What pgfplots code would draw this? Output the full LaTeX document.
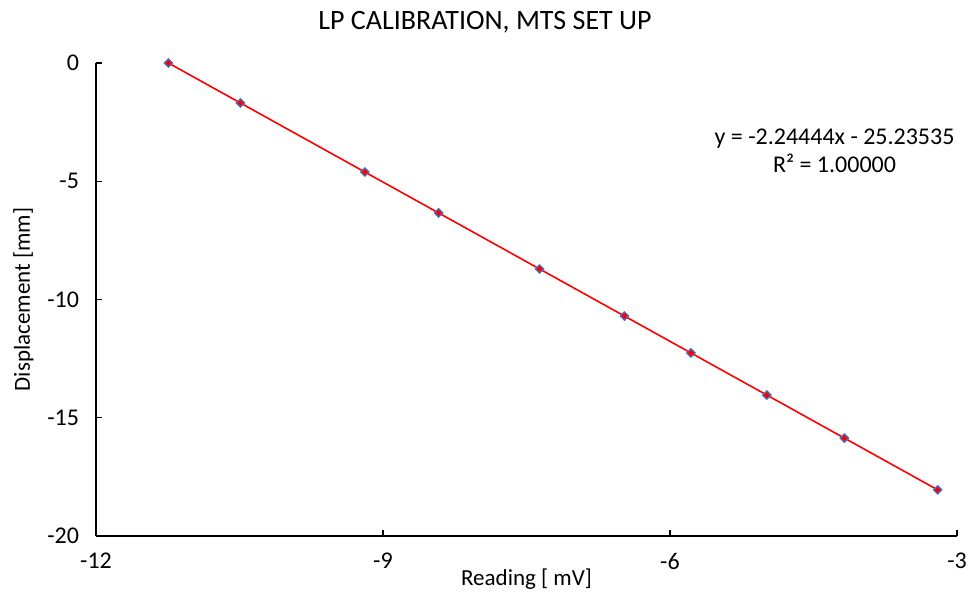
\documentclass[border=0pt]{standalone}
\usepackage{fontspec}
\setmainfont{Carlito}
\usepackage{pgfplots}
\pgfplotsset{compat=1.18}
\definecolor{mblue}{RGB}{68,114,196}
\begin{document}
\begin{tikzpicture}
\useasboundingbox (-48pt,-29pt) rectangle (436.5pt,268pt);
\begin{axis}[
  at={(0pt,0pt)}, anchor=south west,
  scale only axis, width=430.5pt, height=236.5pt,
  xmin=-12, xmax=-3, ymin=-20, ymax=0,
  xtick={-12,-9,-6,-3}, ytick={-20,-15,-10,-5,0},
  axis x line=bottom, axis y line=left,
  axis line style={-, line width=0.8pt, black},
  tick align=inside, major tick length=3pt,
  tick style={black, line width=0.6pt},
  /pgf/number format/assume math mode=true,
  tick label style={font=\fontsize{12}{14}\selectfont},
  xticklabel style={yshift=-5pt},
  yticklabel style={xshift=-5pt},
  xlabel={Reading [ mV]}, ylabel={Displacement [mm]},
  label style={font=\fontsize{11.5}{13}\selectfont},
  xlabel style={yshift=7pt},
  ylabel style={yshift=0pt},
  clip=false,
]
\addplot[only marks, mark=square*, mark size=1.6pt, mark options={rotate=45, fill=mblue, draw=mblue}] coordinates {
(-11.2434,0) (-10.4906,-1.69) (-9.1895,-4.61) (-8.4188,-6.34) (-7.3628,-8.71)
(-6.4762,-10.70) (-5.7811,-12.26) (-4.9880,-14.04) (-4.1771,-15.86) (-3.2014,-18.05)
};
\addplot[red, line width=0.8pt, no marks] coordinates {(-11.2434,0) (-3.2014,-18.05)};
\addplot[only marks, mark=square*, mark size=0.9pt, mark options={rotate=45, fill=red, draw=red}] coordinates {
(-11.2434,0) (-10.4906,-1.69) (-9.1895,-4.61) (-8.4188,-6.34) (-7.3628,-8.71)
(-6.4762,-10.70) (-5.7811,-12.26) (-4.9880,-14.04) (-4.1771,-15.86) (-3.2014,-18.05)
};
\node[align=center, font=\fontsize{12}{14}\selectfont] at (axis cs:-4.28,-3.72) {y = -2.24444x - 25.23535\\R² = 1.00000};
\end{axis}
\node[font=\fontsize{14}{16}\selectfont] at (194.5pt,257pt) {LP CALIBRATION, MTS SET UP};
\end{tikzpicture}
\end{document}
